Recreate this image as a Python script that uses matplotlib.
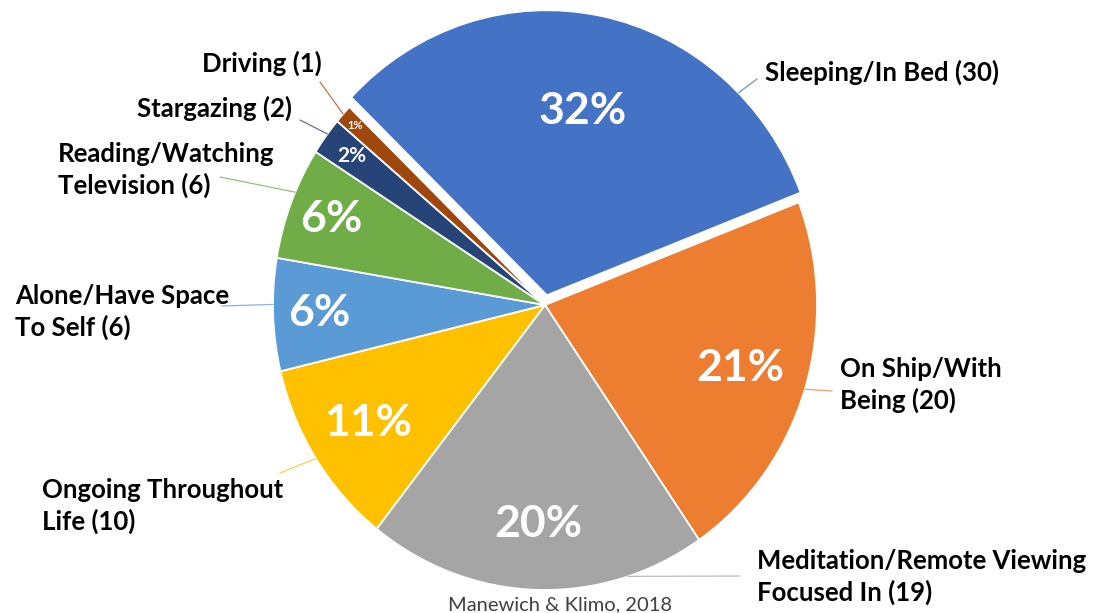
import numpy as np
import matplotlib

matplotlib.use("Agg")
import matplotlib.pyplot as plt

W, H = 1093, 613

categories = [
    "Sleeping/In Bed",
    "On Ship/With\nBeing",
    "Meditation/Remote Viewing\nFocused In",
    "Ongoing Throughout\nLife",
    "Alone/Have Space\nTo Self",
    "Reading/Watching\nTelevision",
    "Stargazing",
    "Driving",
]
counts = [30, 20, 19, 10, 6, 6, 2, 1]
colors = ["#4472C4", "#ED7D31", "#A5A5A5", "#FFC000",
          "#5B9BD5", "#70AD47", "#264478", "#9E480E"]
explode = [0.035, 0, 0, 0, 0, 0, 0, 0]

# label layout (pixels from top-left): text anchor, leader start, where on the wedge the leader lands
label_pos = [(765, 72), (840, 385), (757, 577), (42, 506),
             (15, 312), (58, 170), (292, 108), (322, 63)]
label_ha = ["left", "left", "left", "left", "left", "left", "right", "right"]
leader_start = [(757, 79), (832, 391), (740, 576), (280, 473),
                (222, 306), (220, 177), (300, 120), (320, 82)]
leader_frac = [0.21, 0.5, 0.77, 0.5, 0.41, 0.40, 0.43, 0.5]
pct_dist = [0.66, 0.75, 0.77, 0.77, 0.83, 0.84, 0.88, 0.94]
pct_size = [32, 32, 32, 32, 32, 32, 15, 8]

plt.rcParams["font.family"] = ["Lato", "DejaVu Sans"]


def px(x, y):
    return x / W, 1 - y / H


fig = plt.figure(figsize=(W / 100, H / 100), dpi=100)

# pie is slightly taller than wide, so the axes box is stretched to match
cx, cy, rx, ry, lim = 545, 305, 272, 285, 1.12
ax = fig.add_axes([(cx - lim * rx) / W, ((H - cy) - lim * ry) / H,
                   2 * lim * rx / W, 2 * lim * ry / H])

wedges, _ = ax.pie(counts, colors=colors, explode=explode, startangle=136,
                   counterclock=False, radius=1,
                   wedgeprops=dict(edgecolor="white", linewidth=1.3))
ax.set_aspect("auto")
ax.set_xlim(-lim, lim)
ax.set_ylim(-lim, lim)
ax.axis("off")

total = sum(counts)
for i, w in enumerate(wedges):
    wx, wy = w.center
    mid = np.deg2rad((w.theta1 + w.theta2) / 2)
    ax.text(wx + pct_dist[i] * np.cos(mid), wy + pct_dist[i] * np.sin(mid),
            f"{counts[i] / total:.0%}", ha="center", va="center",
            color="white", fontsize=pct_size[i], fontweight="bold")

    ang = np.deg2rad(w.theta1 + leader_frac[i] * (w.theta2 - w.theta1))
    ax.annotate("", xy=(wx + w.r * np.cos(ang), wy + w.r * np.sin(ang)),
                xycoords="data", xytext=px(*leader_start[i]),
                textcoords="figure fraction", annotation_clip=False,
                arrowprops=dict(arrowstyle="-", color=colors[i], lw=0.9,
                                alpha=0.75, shrinkA=0, shrinkB=0))

    fig.text(*px(*label_pos[i]), f"{categories[i]} ({counts[i]})",
             ha=label_ha[i], va="center", fontsize=18.5, fontweight="bold",
             color="black", linespacing=1.3)

fig.text(*px(560, 605), "Manewich & Klimo, 2018", ha="center", va="center",
         fontsize=14.5, color="#404040")

fig.savefig("out.png", dpi=100)
plt.close(fig)
